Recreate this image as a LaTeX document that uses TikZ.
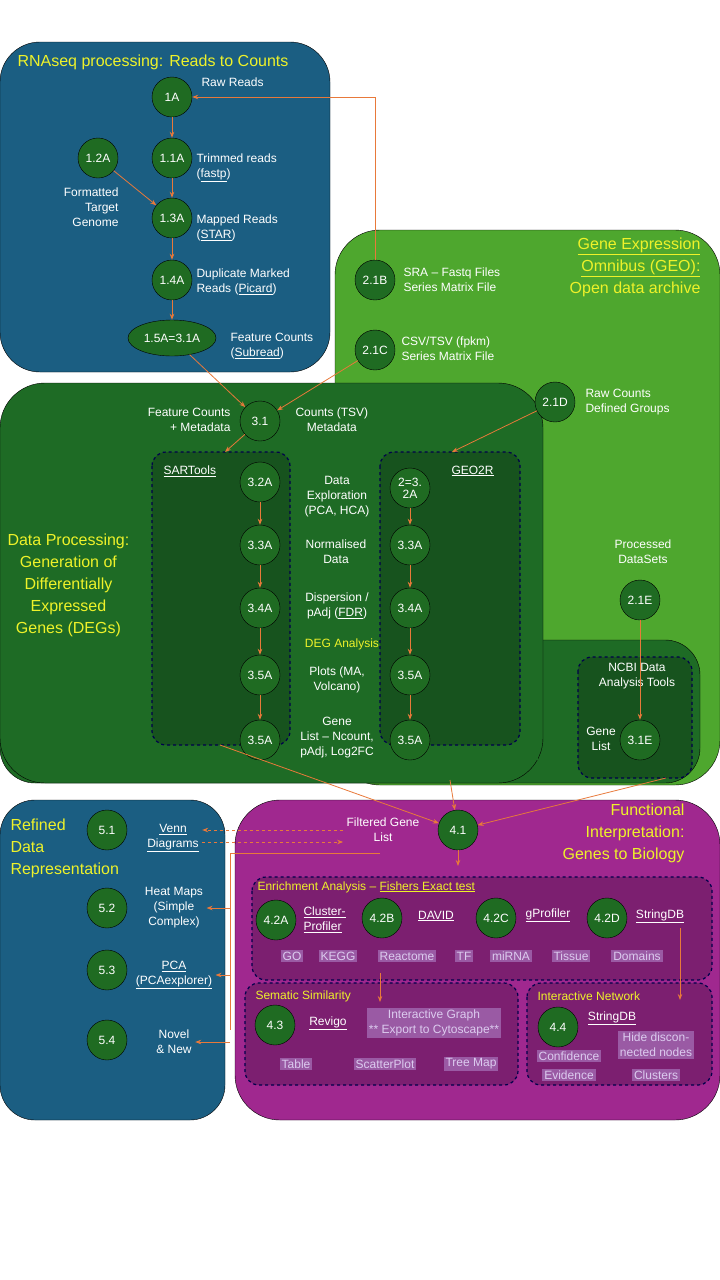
\documentclass[tikz,border=0pt]{standalone}
\usepackage{fontspec}
\setmainfont{Liberation Sans}
\usetikzlibrary{positioning,arrows.meta,shapes.geometric}
\definecolor{seqblue}{HTML}{1B5E82}
\definecolor{geogreen}{HTML}{4EA72E}
\definecolor{dpgreen}{HTML}{1E6B25}
\definecolor{toolgreen}{HTML}{17531E}
\definecolor{nodegreen}{HTML}{1F6B22}
\definecolor{funcpurple}{HTML}{A0288F}
\definecolor{enrpurple}{HTML}{7C1F70}
\definecolor{tagpurple}{HTML}{9A5AA4}
\definecolor{taglav}{HTML}{DCCBEF}
\definecolor{flow}{HTML}{E8793A}
\definecolor{ttl}{HTML}{EEF22A}
\newcommand{\ul}[1]{\underline{#1}}
\tikzset{
  stage/.style = {draw=black, circle, fill=nodegreen, text=white, minimum size=40pt, inner sep=0pt, font=\fontsize{12}{13}\selectfont},
  lbl/.style = {text=white, align=center, font=\fontsize{12}{15}\selectfont},
  hdr/.style = {text=ttl, align=center, font=\fontsize{16}{22}\selectfont},
  tag/.style = {fill=tagpurple, text=taglav, inner sep=2pt, font=\fontsize{12}{14}\selectfont},
  go/.style = {draw=flow, thick, -{Stealth[length=6pt]}},
  toolbox/.style = {draw=black!70!blue, dashed, very thick, rounded corners=14pt},
}
\begin{document}
\begin{tikzpicture}[x=1pt, y=-1pt]
  \useasboundingbox (0,0) rectangle (720,1280);
  % background areas
  \fill[seqblue, draw=black] (0,42) [rounded corners=40pt] rectangle (330,372);
  \fill[geogreen, draw=black] (335,230) [rounded corners=45pt] rectangle (720,785);
  \fill[dpgreen, draw=black] (0,640) [rounded corners=35pt] rectangle (700,783);
  \fill[dpgreen, draw=black] (0,383) [rounded corners=45pt] rectangle (543,783);
  \fill[dpgreen] (20,645) rectangle (538,760);
  \fill[toolgreen, toolbox] (152,452) rectangle (290,745);
  \fill[toolgreen, toolbox] (380,452) rectangle (520,745);
  \fill[toolgreen, toolbox] (578,657) rectangle (692,778);
  \fill[seqblue, draw=black] (0,800) [rounded corners=35pt] rectangle (225,1120);
  \fill[funcpurple, draw=black] (235,800) [rounded corners=45pt] rectangle (720,1120);
  \fill[enrpurple, toolbox] (252,877) rectangle (712,980);
  \fill[enrpurple, toolbox] (245,983) rectangle (518,1085);
  \fill[enrpurple, toolbox] (527,983) rectangle (712,1085);

  % titles
  \node[hdr, anchor=west] (tseq) at (14,62) {RNAseq processing: Reads to Counts};
  \node[hdr, anchor=east, align=right] (tgeo) at (704,267) {\ul{Gene Expression}\\\ul{Omnibus (GEO):}\\Open data archive};
  \node[hdr, anchor=west, align=center] (tdp) at (4,585) {Data Processing:\\Generation of\\Differentially\\Expressed\\Genes (DEGs)};
  \node[hdr, anchor=west, align=left] (tref) at (7,848) {Refined\\Data\\Representation};
  \node[hdr, anchor=east, align=right] (tfun) at (688,833) {Functional\\Interpretation:\\Genes to Biology};
  \node[text=ttl, anchor=west, font=\fontsize{12}{14}\selectfont] (tenr) at (254,887) {Enrichment Analysis -- \ul{Fishers Exact test}};
  \node[text=ttl, anchor=west, font=\fontsize{12}{14}\selectfont] (tsem) at (252,996) {Sematic Similarity};
  \node[text=ttl, anchor=west, font=\fontsize{12}{14}\selectfont] (tnet) at (534,996) {Interactive Network};

  % RNAseq
  \node[stage] (s1A) at (172,97) {1A};
  \node[stage] (s11A) at (172,158) {1.1A};
  \node[stage] (s12A) at (98,158) {1.2A};
  \node[stage] (s13A) at (172,218) {1.3A};
  \node[stage] (s14A) at (172,280) {1.4A};
  \node[stage, ellipse, minimum width=88pt, minimum height=36pt] (s15A) at (172,338) {1.5A=3.1A};
  \node[lbl, anchor=west] (l1A) at (198,82) {Raw Reads};
  \node[lbl, anchor=west, align=left] (l11A) at (193,168) {Trimmed reads\\(\ul{fastp})};
  \node[lbl, align=right, anchor=east] (l12A) at (122,207) {Formatted\\Target\\Genome};
  \node[lbl, anchor=west, align=left] (l13A) at (193,228) {Mapped Reads\\(\ul{STAR})};
  \node[lbl, anchor=west, align=left] (l14A) at (193,282) {Duplicate Marked\\Reads (\ul{Picard})};
  \node[lbl, anchor=west, align=left] (l15A) at (227,346) {Feature Counts\\(\ul{Subread})};

  % GEO
  \node[stage] (s21B) at (375,280) {2.1B};
  \node[stage] (s21C) at (375,350) {2.1C};
  \node[stage] (s21D) at (555,402) {2.1D};
  \node[stage] (s21E) at (640,600) {2.1E};
  \node[lbl, anchor=west, align=left] (l21B) at (400,280) {SRA -- Fastq Files\\Series Matrix File};
  \node[lbl, anchor=west, align=left] (l21C) at (398,349) {CSV/TSV (fpkm)\\Series Matrix File};
  \node[lbl, anchor=west, align=left] (l21D) at (582,402) {Raw Counts\\Defined Groups};
  \node[lbl] (l21E) at (643,552) {Processed\\DataSets};

  % data processing
  \node[stage] (s31) at (260,421) {3.1};
  \node[lbl, align=right, anchor=east] (l31a) at (234,420) {Feature Counts\\+ Metadata};
  \node[lbl, anchor=west] (l31b) at (292,420) {Counts (TSV)\\Metadata};
  \node[lbl, anchor=west] (lsar) at (160,471) {\ul{SARTools}};
  \node[lbl, anchor=west] (lgeo) at (448,471) {\ul{GEO2R}};
  \node[lbl, anchor=north] (lncbi) at (637,660) {NCBI Data\\Analysis Tools};
  \foreach \y/\n/\t in {482/2/3.2A, 545/3/3.3A, 608/4/3.4A, 675/5/3.5A, 740/6/3.5A}
    \node[stage] (a\n) at (260,\y) {\t};
  \node[stage, font=\fontsize{12}{12}\selectfont, align=center] (b2) at (410,488) {2=3.\\2A};
  \foreach \y/\n/\t in {545/3/3.3A, 608/4/3.4A, 675/5/3.5A, 740/6/3.5A}
    \node[stage] (b\n) at (410,\y) {\t};
  \foreach \a/\b in {2/3, 3/4, 4/5, 5/6} {
    \draw[go] (a\a) -- (a\b);
    \draw[go] (b\a) -- (b\b);
  }
  \node[lbl] (d1) at (337,497) {Data\\Exploration\\(PCA, HCA)};
  \node[lbl] (d2) at (336,552) {Normalised\\Data};
  \node[lbl] (d3) at (337,606) {Dispersion /\\pAdj (\ul{FDR})};
  \node[text=ttl, font=\fontsize{12}{14}\selectfont] (d4) at (342,644) {DEG Analysis};
  \node[lbl] (d5) at (337,680) {Plots (MA,\\Volcano)};
  \node[lbl] (d6) at (337,738) {Gene\\List -- Ncount,\\pAdj, Log2FC};
  \node[stage] (s31E) at (640,740) {3.1E};
  \node[lbl] (l31E) at (601,739) {Gene\\List};

  % refined data
  \node[stage] (s51) at (107,830) {5.1};
  \node[stage] (s52) at (107,908) {5.2};
  \node[stage] (s53) at (107,970) {5.3};
  \node[stage] (s54) at (107,1040) {5.4};
  \node[lbl] (l51) at (173,838) {\ul{Venn}\\\ul{Diagrams}};
  \node[lbl] (l52) at (174,908) {Heat Maps\\(Simple\\Complex)};
  \node[lbl] (l53) at (174,975) {\ul{PCA}\\\ul{(PCAexplorer)}};
  \node[lbl] (l54) at (174,1042) {Novel\\\& New};

  % functional
  \node[stage] (s41) at (458,830) {4.1};
  \node[lbl] (l41) at (383,830) {Filtered Gene\\List};
  \node[stage] (s42A) at (276,920) {4.2A};
  \node[stage] (s42B) at (382,918) {4.2B};
  \node[stage] (s42C) at (496,918) {4.2C};
  \node[stage] (s42D) at (607,918) {4.2D};
  \node[lbl, anchor=west, align=left] (l42A) at (300,920) {\ul{Cluster-}\\\ul{Profiler}};
  \node[lbl] (l42B) at (436,916) {\ul{DAVID}};
  \node[lbl] (l42C) at (548,915) {\ul{gProfiler}};
  \node[lbl] (l42D) at (660,916) {\ul{StringDB}};
  \foreach \x/\t in {292/GO, 338/KEGG, 407/Reactome, 464/TF, 511/miRNA, 571/Tissue, 637/Domains}
    \node[tag] at (\x,956) {\t};
  \node[stage] (s43) at (275,1025) {4.3};
  \node[lbl] (l43) at (328,1023) {\ul{Revigo}};
  \node[tag, align=center, font=\fontsize{12}{15}\selectfont] (tgraph) at (434,1023) {Interactive Graph\\** Export to Cytoscape**};
  \node[tag] (ttab) at (296,1064) {Table};
  \node[tag] (tsct) at (385,1064) {ScatterPlot};
  \node[tag] (ttree) at (471,1064) {Tree Map};
  \node[stage] (s44) at (558,1027) {4.4};
  \node[lbl] (l44) at (612,1018) {\ul{StringDB}};
  \node[tag] (tconf) at (569,1056) {Confidence};
  \node[tag, align=center, font=\fontsize{12}{15}\selectfont] (thide) at (656,1045) {Hide discon-\\nected nodes};
  \node[tag] (tevi) at (569,1075) {Evidence};
  \node[tag] (tclu) at (656,1075) {Clusters};

  % helper points
  \coordinate (sarbot) at (220,745);
  \coordinate (sartop) at (225,452);
  \coordinate (geotop) at (452,452);
  \coordinate (geobot) at (450,780);
  \coordinate (ncbibot) at (666,778);
  \coordinate (enrout) at (458,866);
  \coordinate (semin) at (380,1002);
  \coordinate (enrbot) at (380,973);
  \coordinate (netin) at (680,1000);
  \coordinate (strd) at (680,928);
  \coordinate (rhook) at (380,853);
  \coordinate (rbend) at (230,853);
  \coordinate (rlow) at (230,1030);

  % connectors
  \draw[go] (s1A) -- (s11A);
  \draw[go] (s11A) -- (s13A);
  \draw[go] (s12A) -- (s13A);
  \draw[go] (s13A) -- (s14A);
  \draw[go] (s14A) -- (s15A);
  \draw[go] (s21B) |- (s1A);
  \draw[go] (s15A) -- (s31);
  \draw[go] (s21C) -- (s31);
  \draw[go] (s31) -- (sartop);
  \draw[go] (s21D) -- (geotop);
  \draw[go] (s21E) -- (s31E);
  \draw[go] (sarbot) -- (s41);
  \draw[go] (geobot) -- (s41);
  \draw[go] (ncbibot) -- (s41);
  \draw[go] (s41) -- (enrout);
  \draw[go] (enrbot) -- (semin);
  \draw[go] (strd) -- (netin);
  \draw[go, dashed] (l41.west |- 0,830) -- (l51.east |- 0,830);
  \draw[go, dashed] (l51.east |- 0,842) -- (l41.west |- 0,842);
  \draw[flow, thick] (rhook) -- (rbend) -- (rlow);
  \draw[go] (rbend |- l52) -- (l52.east);
  \draw[go] (rbend |- l53) -- (l53.east);
  \draw[go] (rbend |- l54) -- (l54.east);
\end{tikzpicture}
\end{document}
